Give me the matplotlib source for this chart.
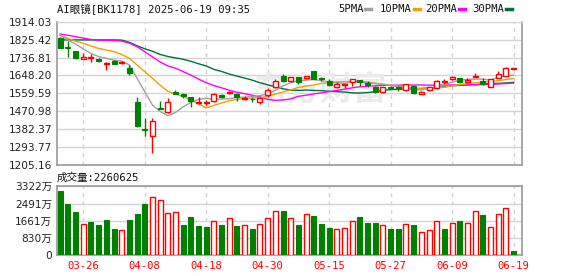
import matplotlib
matplotlib.use('Agg')
import matplotlib.pyplot as plt
from matplotlib.lines import Line2D

# ---------------- data ----------------
dates = ['03-21', '03-24', '03-25', '03-26', '03-27', '03-28', '03-31', '04-01', '04-02', '04-03',
         '04-07', '04-08', '04-09', '04-10', '04-11', '04-14', '04-15', '04-16', '04-17', '04-18',
         '04-21', '04-22', '04-23', '04-24', '04-25', '04-28', '04-29', '04-30', '05-06', '05-07',
         '05-08', '05-09', '05-12', '05-13', '05-14', '05-15', '05-16', '05-19', '05-20', '05-21',
         '05-22', '05-23', '05-26', '05-27', '05-28', '05-29', '05-30', '06-03', '06-04', '06-05',
         '06-06', '06-09', '06-10', '06-11', '06-12', '06-13', '06-16', '06-17', '06-18', '06-19']

opens = [1832, 1788, 1769, 1728, 1736, 1731, 1703, 1718, 1708, 1686,
         1515, 1381, 1351, 1487, 1465, 1568, 1558, 1540, 1512, 1514,
         1521, 1553, 1561, 1556, 1531, 1532, 1516, 1549, 1591, 1645,
         1619, 1640, 1634, 1670, 1634, 1622, 1592, 1600, 1617, 1625,
         1611, 1591, 1568, 1592, 1589, 1574, 1594, 1554, 1576, 1586,
         1617, 1629, 1637, 1614, 1642, 1622, 1592, 1637, 1645, 1678]
highs = [1838, 1820, 1769, 1759, 1756, 1736, 1713, 1726, 1720, 1700,
         1543, 1436, 1436, 1521, 1535, 1576, 1563, 1543, 1541, 1526,
         1559, 1556, 1573, 1559, 1545, 1543, 1540, 1584, 1629, 1653,
         1642, 1640, 1646, 1670, 1642, 1629, 1617, 1604, 1629, 1627,
         1620, 1596, 1592, 1597, 1597, 1607, 1601, 1571, 1591, 1624,
         1630, 1647, 1637, 1634, 1658, 1634, 1630, 1670, 1688, 1685]
lows = [1782, 1741, 1728, 1728, 1713, 1716, 1673, 1705, 1706, 1650,
        1394, 1348, 1266, 1480, 1460, 1556, 1538, 1493, 1505, 1502,
        1515, 1538, 1556, 1521, 1525, 1518, 1508, 1541, 1584, 1614,
        1618, 1604, 1630, 1630, 1620, 1596, 1584, 1584, 1597, 1597,
        1592, 1562, 1563, 1581, 1571, 1571, 1558, 1554, 1573, 1579,
        1605, 1625, 1609, 1609, 1642, 1601, 1592, 1634, 1645, 1678]
closes = [1786, 1782, 1733, 1739, 1739, 1718, 1709, 1706, 1713, 1662,
          1399, 1378, 1422, 1482, 1515, 1558, 1548, 1521, 1518, 1517,
          1554, 1540, 1564, 1540, 1536, 1530, 1535, 1576, 1622, 1622,
          1640, 1614, 1645, 1632, 1630, 1601, 1606, 1604, 1629, 1614,
          1601, 1564, 1589, 1587, 1581, 1604, 1563, 1568, 1591, 1620,
          1620, 1642, 1617, 1627, 1645, 1604, 1630, 1653, 1685, 1685]

ma5 = [1848, 1823, 1804, 1779, 1757, 1741, 1733, 1724, 1719, 1700,
       1634, 1568, 1502, 1470, 1449, 1465, 1493, 1515, 1530, 1535,
       1531, 1531, 1533, 1540, 1540, 1545, 1548, 1558, 1574, 1596,
       1612, 1622, 1625, 1629, 1622, 1616, 1612, 1609, 1617, 1617,
       1612, 1609, 1604, 1600, 1589, 1584, 1579, 1576, 1585, 1592,
       1604, 1615, 1624, 1629, 1630, 1630, 1625, 1640, 1645, 1650]
ma10 = [1845, 1832, 1818, 1807, 1794, 1782, 1774, 1766, 1752, 1733,
        1700, 1667, 1634, 1600, 1570, 1555, 1545, 1526, 1508, 1487,
        1500, 1512, 1523, 1530, 1535, 1537, 1538, 1545, 1556, 1566,
        1577, 1589, 1596, 1601, 1609, 1612, 1616, 1617, 1619, 1619,
        1616, 1609, 1605, 1600, 1595, 1590, 1586, 1582, 1584, 1587,
        1590, 1597, 1603, 1608, 1612, 1615, 1618, 1622, 1628, 1633]
ma20 = [1853, 1847, 1840, 1833, 1826, 1823, 1822, 1821, 1818, 1808,
        1790, 1766, 1740, 1715, 1695, 1684, 1667, 1650, 1630, 1612,
        1598, 1587, 1575, 1565, 1558, 1550, 1542, 1530, 1525, 1527,
        1532, 1545, 1550, 1557, 1562, 1568, 1574, 1580, 1587, 1592,
        1595, 1597, 1599, 1600, 1600, 1601, 1601, 1601, 1600, 1600,
        1601, 1601, 1602, 1602, 1602, 1603, 1604, 1606, 1608, 1610]
ma30 = [1824, 1824, 1824, 1824, 1824, 1824, 1824, 1824, 1823, 1812,
        1795, 1780, 1768, 1752, 1742, 1735, 1728, 1718, 1706, 1695,
        1678, 1668, 1655, 1645, 1635, 1625, 1612, 1602, 1592, 1582,
        1576, 1574, 1576, 1574, 1573, 1570, 1568, 1566, 1562, 1561,
        1563, 1568, 1575, 1578, 1580, 1582, 1583, 1584, 1586, 1589,
        1592, 1597, 1599, 1601, 1603, 1606, 1608, 1609, 1611, 1614]

# volume in 万
volume = [3082, 2460, 2092, 1485, 1597, 1453, 1693, 1262, 1214, 1693,
          1980, 2460, 2827, 2683, 2060, 2108, 1453, 1837, 1405, 1358,
          1629, 1453, 1773, 1405, 1437, 1262, 1485, 1773, 2156, 2124,
          1773, 1453, 2012, 1885, 1501, 1310, 1246, 1294, 1645, 1837,
          1549, 1549, 1437, 1262, 1262, 1485, 1453, 1102, 1214, 1629,
          1262, 1533, 1645, 1533, 2156, 1932, 1342, 2012, 2300, 226]
vol_up = [0, 0, 0, 1, 0, 0, 0, 0, 1, 0,
          0, 0, 1, 1, 1, 1, 0, 0, 0, 0,
          1, 0, 1, 0, 1, 0, 1, 1, 1, 0,
          1, 0, 1, 0, 0, 0, 1, 1, 1, 0,
          0, 0, 1, 0, 0, 1, 0, 1, 1, 1,
          0, 1, 0, 1, 1, 0, 1, 1, 1, 0]

price_ticks = [1205.16, 1293.77, 1382.37, 1470.98, 1559.59, 1648.20, 1736.81, 1825.42, 1914.03]
vol_ticks = [0, 830, 1661, 2491, 3322]
vol_tick_labels = ['0', '830万', '1661万', '2491万', '3322万']
date_ticks = ['03-26', '04-08', '04-18', '04-30', '05-15', '05-27', '06-09', '06-19']

title = 'AI眼镜[BK1178] 2025-06-19 09:35'
vol_caption = '成交量:2260625'
watermark = '东方财富'
ma_names = ['5PMA', '10PMA', '20PMA', '30PMA']

# ---------------- style ----------------
RED = '#ff0000'
GREEN = '#008000'
MA_COLORS = ['#a0a0a0', '#f0a000', '#ff00ff', '#00703c']
GRID = '#d4d4d4'
SPINE = '#9a9a9a'
MONO = ['DejaVu Sans Mono', 'Noto Sans CJK SC']
SANS = ['DejaVu Sans', 'Noto Sans CJK SC']

W, H = 578, 276
fig = plt.figure(figsize=(W / 100, H / 100), dpi=100)
fig.patch.set_facecolor('white')

def fx(px):
    return px / W

def fy(py):
    return 1 - py / H

x0, x1 = 57, 522
ax = fig.add_axes([fx(x0), fy(165), fx(x1 - x0), fy(21.7) - fy(165)])
axv = fig.add_axes([fx(x0), fy(255.3), fx(x1 - x0), fy(186.3) - fy(255.3)])

n = len(dates)
xs = list(range(n))
xlim = (-0.42, 60.1)
tick_pos = [dates.index(d) for d in date_ticks]
bw = 0.65

# ---- main price axes ----
ax.set_xlim(*xlim)
ax.set_ylim(price_ticks[0], price_ticks[-1])
ax.set_yticks(price_ticks)
ax.set_yticklabels(['%.2f' % v for v in price_ticks], fontsize=7.6, color='#222222', family=SANS)
ax.set_xticks(tick_pos)
ax.set_xticklabels([])
ax.tick_params(length=0, pad=3.5)
for t in price_ticks:
    ax.axhline(t, color=GRID, lw=1, zorder=0)
for p in tick_pos:
    ax.axvline(p, color=GRID, lw=1, ls=(0, (3, 3)), zorder=0)
for s in ['left', 'right', 'bottom']:
    ax.spines[s].set_color(SPINE)
    ax.spines[s].set_linewidth(1.2)
ax.spines['top'].set_color(GRID)

# watermark (behind the marks)
ax.text(0.565, 0.515, watermark, transform=ax.transAxes, fontsize=24, color='#ebebeb',
        ha='center', va='center', family=['Noto Sans CJK SC', 'DejaVu Sans'],
        fontweight='bold', zorder=1)

# MA lines
for vals, col in zip([ma30, ma20, ma10, ma5], MA_COLORS[::-1]):
    ax.plot(xs, vals, color=col, lw=1.0, zorder=2)

# candles
for i in xs:
    o, h, l, c = opens[i], highs[i], lows[i], closes[i]
    if c >= o:
        col = RED
        ax.vlines(i, l, o, color=col, lw=1, zorder=3)
        ax.vlines(i, c, h, color=col, lw=1, zorder=3)
        ax.bar(i, max(c - o, 0.5), bottom=o, width=bw, facecolor='white', edgecolor=col,
               lw=1, zorder=4)
    else:
        col = GREEN
        ax.vlines(i, l, h, color=col, lw=1, zorder=3)
        ax.bar(i, max(o - c, 0.5), bottom=c, width=bw, facecolor=col, edgecolor=col,
               lw=0.8, zorder=4)

# ---- volume axes ----
axv.set_xlim(*xlim)
axv.set_ylim(0, vol_ticks[-1])
axv.set_yticks(vol_ticks)
axv.set_yticklabels(vol_tick_labels, fontsize=7.6, color='#222222', family=SANS)
axv.set_xticks(tick_pos)
axv.set_xticklabels(date_ticks, fontsize=7.6, color=RED, family=MONO)
axv.tick_params(length=0, pad=3.5)
axv.tick_params(axis='x', pad=4)
for t in vol_ticks:
    axv.axhline(t, color=GRID, lw=1, zorder=0)
for p in tick_pos:
    axv.axvline(p, color=GRID, lw=1, ls=(0, (3, 3)), zorder=0)
for s in ['left', 'right', 'bottom', 'top']:
    axv.spines[s].set_color(SPINE)
    axv.spines[s].set_linewidth(1.2)

for i in xs:
    if vol_up[i]:
        axv.bar(i, volume[i], width=bw, facecolor='white', edgecolor=RED, lw=1, zorder=3)
    else:
        axv.bar(i, volume[i], width=bw, facecolor=GREEN, edgecolor=GREEN, lw=0.8, zorder=3)

# ---- texts ----
fig.text(fx(57), fy(8.5), title, fontsize=7.6, family=MONO, color='#111111', va='center', ha='left')
fig.text(fx(57), fy(178), vol_caption, fontsize=7.6, family=MONO, color='#111111', va='center', ha='left')

# legend
leg_x = [338, 380, 425.5, 472]
for name, lx, col in zip(ma_names, leg_x, MA_COLORS):
    fig.text(fx(lx), fy(8.5), name, fontsize=7.6, family=MONO, color='#111111',
             va='center', ha='left')
    mx = lx + 6.3 * len(name) + 2
    fig.add_artist(Line2D([fx(mx), fx(mx + 6)], [fy(9), fy(9)], color=col, lw=2.5,
                          transform=fig.transFigure))

fig.savefig('out.png', dpi=100, facecolor='white')
